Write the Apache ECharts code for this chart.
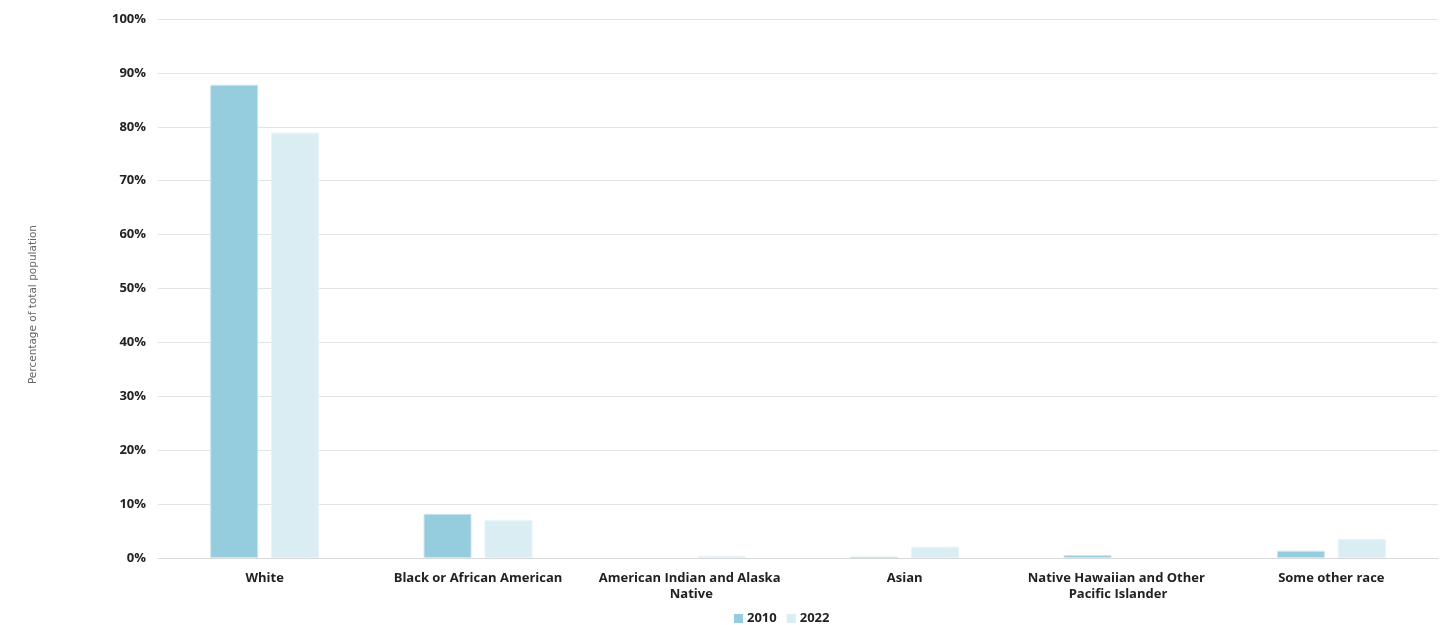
<!DOCTYPE html>
<html><head><meta charset="utf-8">
<script src="https://cdn.jsdelivr.net/npm/echarts@6/dist/echarts.min.js"></script>
<style>html,body{margin:0;padding:0;background:#fff}#c{width:1444px;height:625px}</style>
</head><body><div id="c"></div>
<script>
const categories = ['White','Black or African American','American Indian and Alaska Native','Asian','Native Hawaiian and Other Pacific Islander','Some other race'];
const s2010 = [87.8, 8.2, null, 0.25, 0.55, 1.35];
const s2022 = [78.9, 7.0, 0.4, 2.1, null, 3.5];
const yTitle = 'Percentage of total population';
const chart = echarts.init(document.getElementById('c'));
const font = 'Open Sans';
chart.setOption({
  animation:false,
  grid:{left:158,right:6,top:19,bottom:67,containLabel:false},
  legend:{bottom:0,left:734,padding:[0,0,0,0],itemWidth:9,itemHeight:9,itemGap:10,icon:'rect',
    itemStyle:{borderWidth:0},
    textStyle:{fontFamily:font,fontWeight:'bold',fontSize:13,color:'#222',padding:[0,0,0,-1]}},
  graphic:[{type:'text',left:28,top:225,rotation:Math.PI/2,
    style:{text:yTitle,font:'10.5px "DejaVu Sans"',fill:'#666'}}],
  xAxis:{type:'category',data:categories,
    axisLine:{lineStyle:{color:'#d9d9d9',width:1}},axisTick:{show:false},
    axisLabel:{interval:0,fontFamily:font,fontWeight:'bold',fontSize:13,color:'#222',margin:12,width:190,overflow:'break',lineHeight:16}},
  yAxis:{type:'value',min:0,max:100,interval:10,
    axisLabel:{formatter:'{value}%',fontFamily:font,fontWeight:'bold',fontSize:13,color:'#222',margin:12},
    splitLine:{lineStyle:{color:'#e3e3e3'}},axisLine:{show:false},axisTick:{show:false}},
  series:[
    {name:'2010',type:'bar',data:s2010,barWidth:48,barGap:'27%',
      itemStyle:{color:'#96cdde',borderColor:'#cbe7f0',borderWidth:1}},
    {name:'2022',type:'bar',data:s2022,barWidth:48,
      itemStyle:{color:'#daedf3',borderColor:'#e6f3f7',borderWidth:1}}
  ]
});
</script></body></html>
